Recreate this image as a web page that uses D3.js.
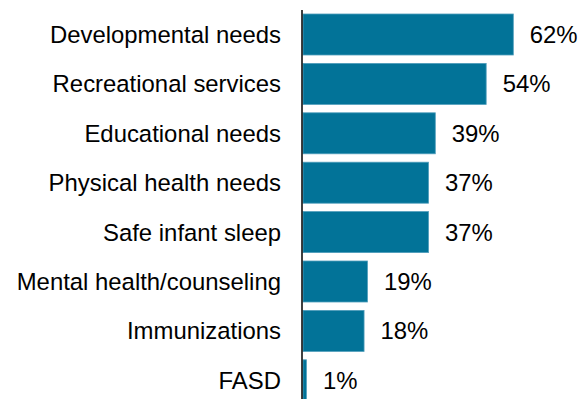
<!DOCTYPE html>
<html>
<head>
<meta charset="utf-8">
<script src="https://cdn.jsdelivr.net/npm/d3@7/dist/d3.min.js"></script>
<style>
  html, body { margin: 0; padding: 0; background: #fff; }
  svg { display: block; }
  text { font-family: "Liberation Sans", Arial, sans-serif; fill: #000; }
</style>
</head>
<body>
<svg id="chart" width="587" height="399"></svg>
<script>
// Share of respondents reporting each need
const categories = [
  "Developmental needs",
  "Recreational services",
  "Educational needs",
  "Physical health needs",
  "Safe infant sleep",
  "Mental health/counseling",
  "Immunizations",
  "FASD"
];
const values = [62, 54, 39, 37, 37, 19, 18, 1];
const valueLabels = ["62%", "54%", "39%", "37%", "37%", "19%", "18%", "1%"];

const width = 587, height = 399;
const fontSize = 23.9;

const svg = d3.select("#chart");

const x = d3.scaleLinear()
  .domain([0, 62])
  .range([303, 513.3]);

const y = d3.scaleBand()
  .domain(categories)
  .range([9.8, 405])
  .paddingInner(0.17)
  .paddingOuter(0.085);

const rows = categories.map((c, i) => ({ cat: c, value: values[i], label: valueLabels[i] }));

// Bars
svg.append("g")
  .selectAll("rect")
  .data(rows)
  .join("rect")
  .attr("x", x(0))
  .attr("y", d => y(d.cat))
  .attr("width", d => x(d.value) - x(0))
  .attr("height", y.bandwidth())
  .attr("fill", "#027398")
  .attr("stroke", "#4f9dbb")
  .attr("stroke-width", 0.8);

// Value labels to the right of each bar
svg.append("g")
  .selectAll("text")
  .data(rows)
  .join("text")
  .attr("x", d => x(d.value) + 16.5)
  .attr("y", d => y(d.cat) + y.bandwidth() / 2 + fontSize * 0.358)
  .attr("font-size", fontSize)
  .text(d => d.label);

// Category axis
const axis = d3.axisLeft(y).tickSize(0).tickPadding(21);
const gAxis = svg.append("g")
  .attr("transform", "translate(302,0)")
  .call(axis);
gAxis.select(".domain").remove();
gAxis.selectAll("text")
  .attr("font-size", fontSize)
  .attr("font-family", "'Liberation Sans', Arial, sans-serif")
  .attr("fill", "#000")
  .attr("dy", null)
  .attr("y", fontSize * 0.358);

svg.append("line")
  .attr("x1", 302).attr("x2", 302)
  .attr("y1", 10).attr("y2", height)
  .attr("stroke", "#000")
  .attr("stroke-width", 1.5);
</script>
</body>
</html>
